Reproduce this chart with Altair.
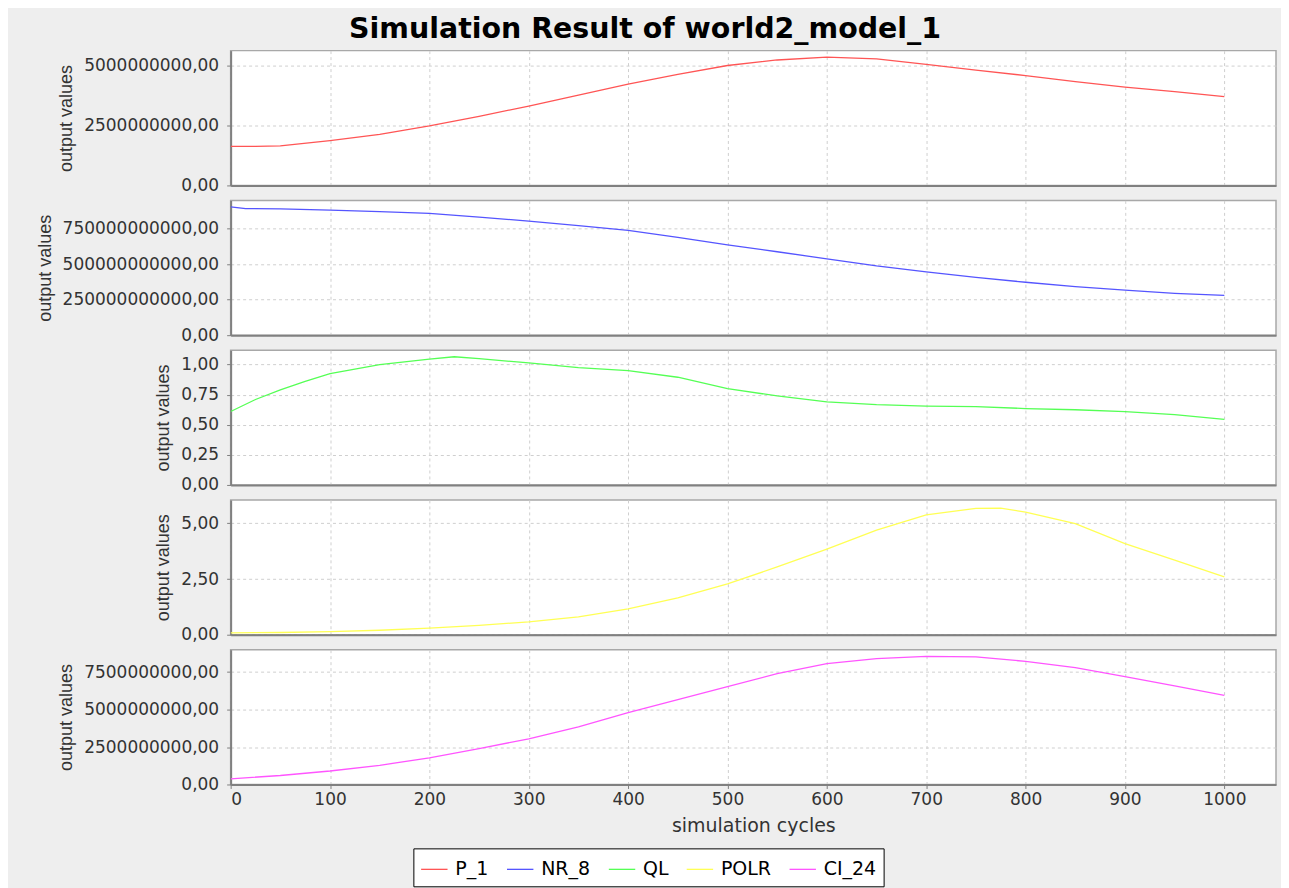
import altair as alt
import pandas as pd

# ---- data ----
series_names = ["P_1", "NR_8", "QL", "POLR", "CI_24"]
series_colors = ["#ff5555", "#5555ff", "#55ff55", "#ffff55", "#ff55ff"]

p1_x = [0, 25, 50, 100, 150, 200, 250, 300, 350, 400, 450, 500, 550, 600, 650, 700, 750, 800, 850, 900, 950, 1000]
p1_y = [1.63e9, 1.63e9, 1.65e9, 1.87e9, 2.13e9, 2.48e9, 2.88e9, 3.31e9, 3.76e9, 4.22e9, 4.63e9, 5.0e9, 5.23e9,
        5.35e9, 5.28e9, 5.05e9, 4.81e9, 4.58e9, 4.33e9, 4.1e9, 3.91e9, 3.7e9]

nr_x = [0, 15, 50, 100, 150, 200, 250, 300, 350, 400, 450, 500, 550, 600, 650, 700, 750, 800, 850, 900, 950, 1000]
nr_y = [905e9, 892e9, 890e9, 882e9, 871e9, 858e9, 832e9, 804e9, 772e9, 738e9, 690e9, 636e9, 588e9, 538e9,
        488e9, 446e9, 407e9, 373e9, 342e9, 317e9, 295e9, 280e9]

ql_x = [0, 25, 50, 75, 100, 150, 200, 225, 250, 300, 350, 400, 450, 500, 550, 600, 650, 700, 750, 800, 850, 900, 950, 1000]
ql_y = [0.61, 0.71, 0.79, 0.86, 0.925, 1.0, 1.045, 1.065, 1.05, 1.014, 0.975, 0.95, 0.895, 0.80, 0.74, 0.69,
        0.667, 0.655, 0.65, 0.635, 0.625, 0.61, 0.585, 0.545]

po_x = [0, 50, 100, 150, 200, 250, 300, 350, 400, 450, 500, 550, 600, 650, 700, 750, 775, 800, 850, 900, 950, 1000]
po_y = [0.08, 0.1, 0.14, 0.2, 0.3, 0.42, 0.58, 0.8, 1.16, 1.65, 2.28, 3.04, 3.84, 4.69, 5.38, 5.67, 5.68, 5.5,
        4.99, 4.09, 3.35, 2.6]

ci_x = [0, 50, 100, 150, 200, 250, 300, 350, 400, 450, 500, 550, 600, 650, 700, 750, 800, 850, 900, 950, 1000]
ci_y = [0.38e9, 0.6e9, 0.9e9, 1.28e9, 1.78e9, 2.4e9, 3.05e9, 3.85e9, 4.8e9, 5.66e9, 6.53e9, 7.4e9, 8.07e9,
        8.4e9, 8.56e9, 8.52e9, 8.22e9, 7.8e9, 7.2e9, 6.58e9, 5.95e9]

y_domains = [5.62e9, 950e9, 1.12, 6.05, 9.0e9]
y_ticks = [
    [0, 2.5e9, 5e9],
    [0, 250e9, 500e9, 750e9],
    [0, 0.25, 0.5, 0.75, 1.0],
    [0, 2.5, 5.0],
    [0, 2.5e9, 5e9, 7.5e9],
]
x_ticks = [0, 100, 200, 300, 400, 500, 600, 700, 800, 900, 1000]

xs = [p1_x, nr_x, ql_x, po_x, ci_x]
ys = [p1_y, nr_y, ql_y, po_y, ci_y]

frames = []
for name, xv, yv in zip(series_names, xs, ys):
    frames.append(pd.DataFrame({"series": name, "cycle": xv, "value": yv}))
df = pd.concat(frames, ignore_index=True)

FONT = "DejaVu Sans"
label_expr = "replace(format(datum.value, '.2f'), '.', ',')"

legend = alt.Legend(
    title=None,
    orient="none",
    legendX=183,
    legendY=799,
    direction="horizontal",
    symbolType="stroke",
    symbolSize=700,
    symbolStrokeWidth=1.3,
    labelFont=FONT,
    labelFontSize=19,
    labelColor="#000000",
    fillColor="#ffffff",
    strokeColor="#000000",
    padding=7,
    columnPadding=15,
    labelOffset=7,
)

panels = []
for i, name in enumerate(series_names):
    last = i == len(series_names) - 1
    if last:
        xaxis = alt.Axis(values=x_ticks, format="d", title="simulation cycles", labelFont=FONT, labelFontSize=17,
                         titleFont=FONT, titleFontSize=19, titleFontWeight="normal", titleColor="#333333",
                         labelColor="#333333", tickColor="#808080", tickSize=4, labelPadding=3,
                         titlePadding=9, grid=True)
    else:
        xaxis = alt.Axis(values=x_ticks, title=None, labels=False, ticks=False, grid=True,
                         minExtent=0, maxExtent=0, labelPadding=0, tickSize=0)
    ch = (
        alt.Chart(df)
        .transform_filter(alt.datum.series == name)
        .mark_line(strokeWidth=1.3, clip=True)
        .encode(
            x=alt.X("cycle:Q", scale=alt.Scale(domain=[0, 1052], nice=False, zero=False), axis=xaxis),
            y=alt.Y("value:Q", scale=alt.Scale(domain=[0, y_domains[i]], nice=False),
                    axis=alt.Axis(values=y_ticks[i], title="output values", labelExpr=label_expr,
                                  labelFont=FONT, labelFontSize=17, labelColor="#333333",
                                  labelPadding=8,
                                  titleFont="Liberation Sans", titleFontSize=18,
                                  titleFontWeight="normal", titleColor="#333333",
                                  tickColor="#808080", tickSize=4, titlePadding=8, grid=True)),
            color=alt.Color("series:N", scale=alt.Scale(domain=series_names, range=series_colors),
                            legend=legend),
        )
        .properties(width=1047, height=135)
    )
    panels.append(ch)

chart = (
    alt.vconcat(*panels, spacing=5)
    .properties(
        title=alt.Title("Simulation Result of world2_model_1", font=FONT, fontSize=28.5, fontWeight="bold",
                        color="#000000", anchor="middle", offset=6, dx=-11),
        background="#eeeeee",
        padding={"left": 27, "top": 6, "right": 4, "bottom": 2},
    )
    .configure_view(fill="#ffffff", stroke="#a8a8a8", strokeWidth=1.5)
    .configure_axis(domainColor="#808080", domainWidth=2, gridColor="#cfcfcf", gridDash=[3, 3],
                    gridWidth=1)
)

chart.save("out.html", embed_options={"renderer": "svg", "actions": False})
